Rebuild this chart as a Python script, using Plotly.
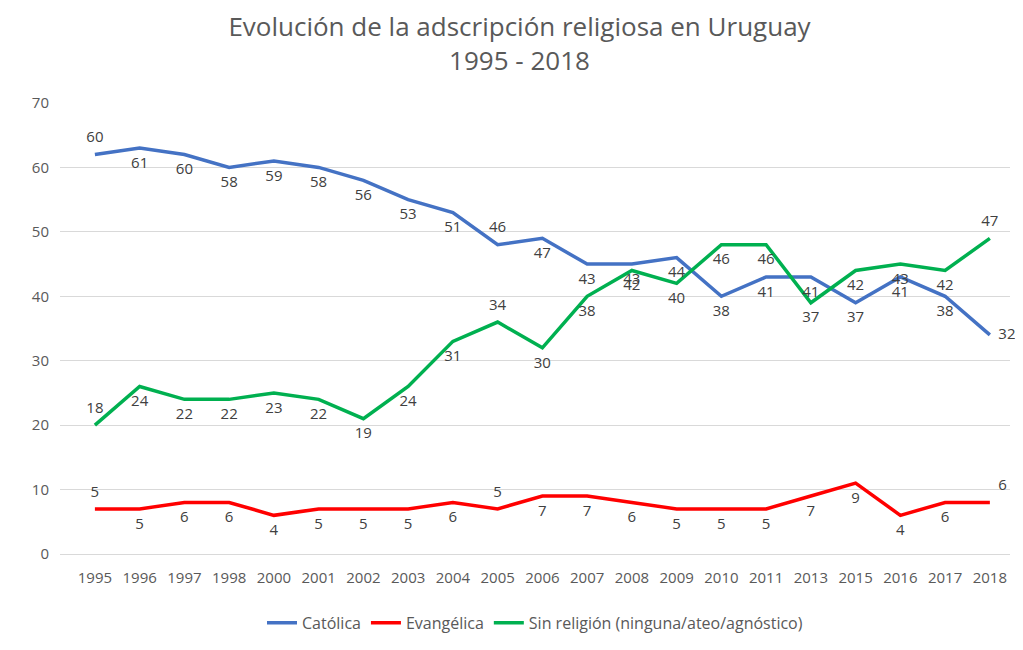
import plotly.graph_objects as go

years = ["1995", "1996", "1997", "1998", "2000", "2001", "2002", "2003", "2004", "2005", "2006",
         "2007", "2008", "2009", "2010", "2011", "2013", "2015", "2016", "2017", "2018"]

# line positions as drawn in the picture
catolica = [62, 63, 62, 60, 61, 60, 58, 55, 53, 48, 49, 45, 45, 46, 40, 43, 43, 39, 43, 40, 34]
evangelica = [7, 7, 8, 8, 6, 7, 7, 7, 8, 7, 9, 9, 8, 7, 7, 7, 9, 11, 6, 8, 8]
sin_religion = [20, 26, 24, 24, 25, 24, 21, 26, 33, 36, 32, 40, 44, 42, 48, 48, 39, 44, 45, 44, 49]

# data labels as printed on the chart
catolica_lbl = [60, 61, 60, 58, 59, 58, 56, 53, 51, 46, 47, 43, 43, 44, 38, 41, 41, 37, 41, 38, 32]
evangelica_lbl = [5, 5, 6, 6, 4, 5, 5, 5, 6, 5, 7, 7, 6, 5, 5, 5, 7, 9, 4, 6, 6]
sin_religion_lbl = [18, 24, 22, 22, 23, 22, 19, 24, 31, 34, 30, 38, 42, 40, 46, 46, 37, 42, 43, 42, 47]

series = [
    ("Católica", catolica, catolica_lbl, "#4472C4", {0: "top center", 9: "top center", 20: "middle right"}),
    ("Evangélica", evangelica, evangelica_lbl, "#FF0000", {0: "top center", 9: "top center", 20: "top right"}),
    ("Sin religión (ninguna/ateo/agnóstico)", sin_religion, sin_religion_lbl, "#00B050",
     {0: "top center", 9: "top center", 20: "top center"}),
]

FONT = "Open Sans, sans-serif"
fig = go.Figure()

for name, vals, lbls, color, special in series:
    fig.add_trace(go.Scatter(x=years, y=vals, mode="lines", name=name,
                             line=dict(color=color, width=3.5)))

# labels: invisible markers push the text a bit away from the line, like Excel does
for name, vals, lbls, color, special in series:
    pos = [special.get(i, "bottom center") for i in range(len(years))]
    fig.add_trace(go.Scatter(x=years, y=vals, mode="markers+text", text=[str(v) for v in lbls],
                             textposition=pos, showlegend=False, hoverinfo="skip",
                             marker=dict(size=12, opacity=0), cliponaxis=False,
                             textfont=dict(family=FONT, size=15, color="#404040")))

fig.update_layout(
    width=1023, height=650,
    paper_bgcolor="white", plot_bgcolor="white",
    margin=dict(l=52, r=21, t=95, b=104),
    font=dict(family=FONT, color="#595959", size=15),
    title=dict(text="Evolución de la adscripción religiosa en Uruguay<br>1995 - 2018",
               x=0.5, xanchor="center", y=0.957, yanchor="top",
               font=dict(family=FONT, size=26, color="#595959")),
    xaxis=dict(type="category", range=[-0.78, 20.45], showgrid=False, ticks="",
               tickfont=dict(size=15, color="#595959"), showline=True,
               linecolor="#D9D9D9", linewidth=1, ticklabelstandoff=10),
    yaxis=dict(range=[0, 70], dtick=10, showgrid=True, gridcolor="#D9D9D9", gridwidth=1,
               zeroline=False, ticks="", tickfont=dict(size=15, color="#595959"), ticklabelstandoff=10),
    legend=dict(orientation="h", x=0.5, xanchor="center", y=-0.115, yanchor="top",
                itemwidth=30, font=dict(size=16, color="#595959")),
)

fig.write_html("out.html")
